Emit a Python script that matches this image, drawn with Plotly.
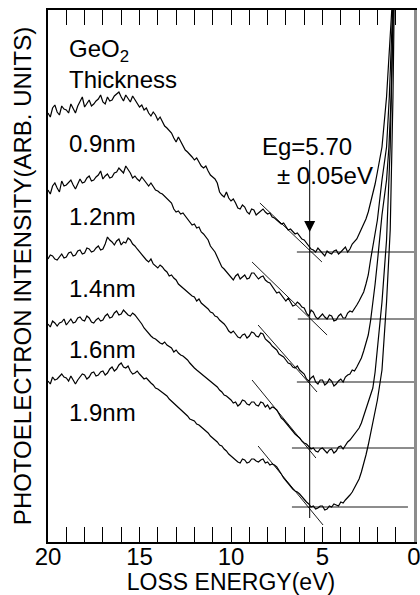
import plotly.graph_objects as go

FONT = "Liberation Sans, Arial, Helvetica, sans-serif"

# Loss energy sampling grid (eV): 20.0 down to 2.0 in 0.125 eV steps
energy = [20.0 - 0.125 * i for i in range(145)]

# Intensity (arb. units, vertically offset spectra)
int_09 = [429, 425, 434, 437, 430, 427, 436, 433, 432, 429,
          438, 434, 429, 436, 440, 445, 435, 439, 442, 436,
          438, 441, 443, 447, 440, 438, 445, 441, 442, 446,
          448, 450, 445, 441, 447, 444, 440, 446, 442, 438,
          435, 437, 432, 434, 429, 426, 430, 427, 422, 425,
          420, 416, 414, 411, 409, 404, 400, 405, 401, 396,
          392, 390, 388, 385, 382, 384, 380, 376, 374, 376,
          371, 367, 365, 363, 359, 350, 347, 345, 350, 344,
          341, 343, 339, 334, 333, 337, 335, 330, 328, 333,
          332, 327, 329, 331, 333, 330, 328, 329, 325, 324,
          322, 320, 318, 319, 315, 312, 313, 311, 308, 309,
          306, 303, 302, 299, 296, 293, 292, 290, 294, 291,
          289, 286, 291, 289, 288, 291, 292, 288, 290, 293,
          295, 290, 293, 298, 301, 303, 308, 313, 317, 323,
          330, 339, 347, 358, 370]
int_12 = [352, 348, 356, 359, 354, 350, 361, 356, 357, 360,
          362, 357, 353, 358, 363, 359, 360, 364, 366, 361,
          362, 365, 367, 371, 363, 366, 368, 364, 365, 369,
          370, 374, 371, 369, 376, 373, 369, 364, 366, 363,
          361, 365, 362, 358, 356, 359, 355, 352, 351, 349,
          348, 346, 343, 341, 339, 333, 330, 331, 328, 329,
          326, 323, 321, 317, 318, 314, 315, 310, 308, 305,
          302, 296, 293, 290, 285, 279, 275, 273, 270, 268,
          265, 262, 266, 268, 263, 265, 267, 263, 264, 269,
          269, 266, 263, 265, 266, 262, 260, 259, 256, 253,
          249, 250, 247, 243, 241, 244, 240, 236, 237, 240,
          238, 235, 234, 229, 226, 232, 230, 225, 223, 226,
          228, 225, 223, 227, 226, 221, 222, 226, 228, 224,
          224, 229, 231, 230, 233, 237, 241, 245, 250, 258,
          267, 282, 297, 310, 322]
int_14 = [283, 287, 286, 283, 282, 285, 288, 284, 285, 289,
          290, 286, 287, 291, 292, 288, 289, 294, 293, 290,
          291, 294, 296, 292, 293, 298, 305, 302, 300, 297,
          301, 303, 297, 300, 299, 304, 302, 298, 296, 293,
          290, 287, 285, 282, 280, 283, 278, 276, 274, 277,
          275, 272, 270, 266, 267, 264, 262, 258, 256, 254,
          252, 250, 248, 246, 245, 241, 243, 239, 237, 235,
          233, 230, 229, 226, 225, 222, 220, 218, 215, 211,
          209, 211, 208, 205, 204, 207, 208, 204, 206, 210,
          209, 206, 205, 209, 208, 203, 201, 199, 196, 194,
          192, 188, 186, 185, 182, 179, 178, 175, 174, 176,
          172, 170, 168, 163, 161, 164, 166, 160, 158, 162,
          162, 157, 159, 163, 161, 156, 158, 161, 163, 160,
          165, 167, 168, 172, 171, 175, 179, 184, 191, 198,
          207, 221, 237, 258, 280]
int_16 = [218, 215, 221, 219, 216, 219, 220, 223, 217, 220,
          223, 219, 220, 224, 225, 222, 221, 226, 224, 220,
          219, 222, 224, 221, 222, 226, 228, 224, 225, 229,
          231, 227, 228, 232, 230, 227, 226, 229, 227, 224,
          222, 218, 214, 211, 208, 206, 204, 203, 201, 199,
          198, 200, 197, 195, 194, 190, 192, 189, 187, 186,
          184, 182, 179, 176, 174, 172, 170, 169, 167, 165,
          163, 161, 159, 157, 155, 152, 150, 147, 146, 144,
          142, 139, 140, 136, 138, 142, 141, 138, 137, 140,
          140, 137, 136, 140, 139, 135, 137, 133, 135, 134,
          132, 128, 124, 122, 119, 116, 113, 111, 108, 106,
          104, 101, 99, 98, 96, 93, 94, 91, 90, 93,
          94, 91, 89, 92, 93, 89, 91, 95, 96, 93,
          97, 100, 102, 105, 108, 111, 114, 119, 126, 132,
          140, 146, 154, 170, 192]
int_19 = [161, 158, 165, 162, 163, 166, 168, 165, 164, 161,
          166, 162, 158, 162, 165, 168, 167, 163, 165, 169,
          170, 166, 167, 170, 171, 167, 169, 173, 175, 171,
          173, 177, 179, 175, 174, 176, 171, 168, 169, 171,
          168, 165, 163, 164, 161, 159, 157, 154, 153, 151,
          149, 148, 146, 143, 141, 139, 137, 134, 132, 130,
          128, 126, 123, 122, 121, 118, 117, 115, 113, 111,
          109, 106, 104, 102, 100, 97, 96, 93, 91, 88,
          86, 84, 82, 80, 79, 83, 82, 79, 80, 83,
          83, 81, 80, 82, 83, 79, 80, 77, 78, 77,
          75, 72, 68, 64, 61, 59, 56, 53, 51, 50,
          48, 45, 43, 40, 38, 35, 36, 33, 34, 36,
          36, 32, 33, 36, 35, 38, 37, 36, 40, 39,
          42, 44, 47, 50, 54, 58, 63, 70, 78, 87,
          97, 108, 119, 130, 142]

# Steep elastic-peak tails (E < 2 eV)
tail_e_09 = [1.75, 1.5, 1.3, 1.15]
tail_i_09 = [395, 445, 502, 552]
tail_e_12 = [1.75, 1.5, 1.35, 1.15]
tail_i_12 = [362, 395, 445, 542]
tail_e_14 = [1.75, 1.5, 1.37, 1.25, 1.12]
tail_i_14 = [327, 362, 395, 445, 542]
tail_e_16 = [1.75, 1.5, 1.3, 1.2, 1.12]
tail_i_16 = [240, 302, 395, 482, 542]
tail_e_19 = [1.75, 1.5, 1.3, 1.2, 1.15, 1.08]
tail_i_19 = [172, 240, 312, 395, 445, 542]

thickness_labels = ["0.9nm", "1.2nm", "1.4nm", "1.6nm", "1.9nm"]
label_levels = [399, 326, 254, 193, 130]

# Background levels (horizontal lines)
base_levels = [290, 223, 160, 94, 35]
base_start = [6.4, 6.35, 6.4, 6.67, 6.67]
base_end = [0.0, 0.0, 0.0, 0.0, 0.33]

# Linear fits of the onset
tan_e = [(8.42, 5.03), (8.85, 4.75), (8.52, 5.30), (8.85, 5.36), (8.52, 4.97)]
tan_i = [(339, 280), (280, 207), (217, 150), (162, 84), (96, 17)]

eg = 5.70
eg_line = (24, 382)
eg_arrow_tip = 310

fig = go.Figure()

spectra = [(int_09, tail_e_09, tail_i_09), (int_12, tail_e_12, tail_i_12),
           (int_14, tail_e_14, tail_i_14), (int_16, tail_e_16, tail_i_16),
           (int_19, tail_e_19, tail_i_19)]
for vals, te, ti in spectra:
    fig.add_trace(go.Scatter(x=energy[:len(vals)] + te, y=vals + ti, mode="lines",
                             line=dict(color="black", width=1.2),
                             showlegend=False, hoverinfo="skip"))

for lvl, s, e in zip(base_levels, base_start, base_end):
    fig.add_trace(go.Scatter(x=[s, e], y=[lvl, lvl], mode="lines",
                             line=dict(color="black", width=0.9),
                             showlegend=False, hoverinfo="skip"))

for ex, iy in zip(tan_e, tan_i):
    fig.add_trace(go.Scatter(x=list(ex), y=list(iy), mode="lines",
                             line=dict(color="black", width=0.9),
                             showlegend=False, hoverinfo="skip"))

fig.add_trace(go.Scatter(x=[eg, eg], y=list(eg_line), mode="lines",
                         line=dict(color="black", width=1),
                         showlegend=False, hoverinfo="skip"))
fig.add_trace(go.Scatter(x=[eg], y=[eg_arrow_tip], mode="markers",
                         marker=dict(symbol="arrow-down", size=11, color="black",
                                     line=dict(width=0)),
                         showlegend=False, hoverinfo="skip"))
# invisible trace carrying the right-hand frame line
fig.add_trace(go.Scatter(x=[10], y=[0], yaxis="y2", mode="markers",
                         marker=dict(opacity=0), showlegend=False, hoverinfo="skip"))

annots = [
    dict(x=18.96, y=492, text="GeO<sub>2</sub>"),
    dict(x=18.96, y=463, text="Thickness"),
]
for t, lv in zip(thickness_labels, label_levels):
    annots.append(dict(x=18.96, y=lv, text=t))
annots.append(dict(x=8.42, y=396, text="Eg=5.70"))
annots.append(dict(x=7.62, y=367, text="\u00b1 0.05eV"))
for a in annots:
    fig.add_annotation(x=a["x"], y=a["y"], text=a["text"], showarrow=False,
                       xanchor="left", yanchor="middle",
                       font=dict(family=FONT, size=24, color="black"))

fig.update_layout(
    width=420, height=595,
    margin=dict(l=48, r=6, t=10, b=53, autoexpand=False),
    paper_bgcolor="white", plot_bgcolor="white",
    font=dict(family=FONT, color="black"),
    xaxis=dict(range=[20, 0], tickvals=[20, 15, 10, 5, 0], automargin=False,
               ticks="inside", ticklen=15, tickwidth=1.2, tickcolor="black",
               minor=dict(dtick=1, ticks="inside", ticklen=8, tickwidth=1, tickcolor="black"),
               showline=True, linecolor="black", linewidth=1.5, mirror="allticks",
               showgrid=False, zeroline=False, ticklabeloverflow="allow",
               ticklabelstandoff=-8,
               tickfont=dict(size=24, family=FONT),
               title=dict(text="LOSS ENERGY(eV)", font=dict(size=23, family=FONT), standoff=6)),
    yaxis=dict(range=[0, 532], showticklabels=False, ticks="", automargin=False,
               showline=True, linecolor="black", linewidth=1.5,
               showgrid=False, zeroline=False,
               title=dict(text="PHOTOELECTRON INTENSITY(ARB. UNITS)",
                          font=dict(size=24, family=FONT), standoff=8)),
    yaxis2=dict(range=[0, 532], overlaying="y", side="right", showticklabels=False,
                ticks="", showline=True, linecolor="#8c8c8c", linewidth=2.5,
                showgrid=False, zeroline=False, automargin=False),
)

fig.write_html("out.html", config={"displayModeBar": False})
